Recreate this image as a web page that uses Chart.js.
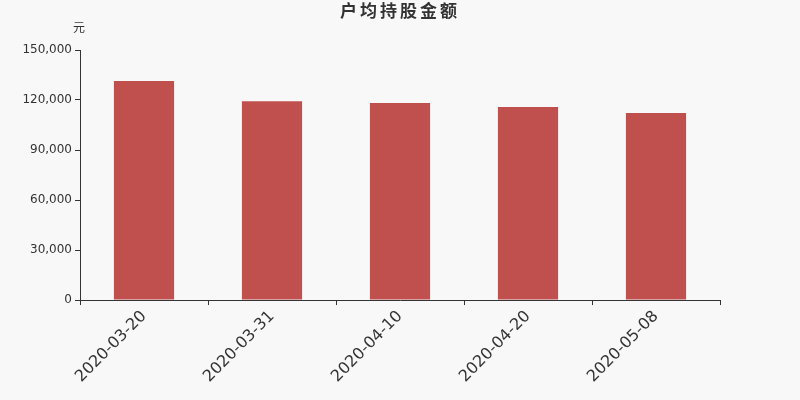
<!DOCTYPE html>
<html>
<head>
<meta charset="utf-8">
<script src="https://cdn.jsdelivr.net/npm/chart.js@4"></script>
<style>
  html, body { margin: 0; padding: 0; background: #f8f8f8; }
  #box { width: 800px; height: 400px; }
</style>
</head>
<body>
<div id="box"><canvas id="barChart"></canvas></div>
<script>
// 데이터
var dates = ['2020-03-20', '2020-03-31', '2020-04-10', '2020-04-20', '2020-05-08'];
var amounts = [131400, 119300, 118200, 115800, 112200];
var yTicks = [0, 30000, 60000, 90000, 120000, 150000];

var titleText = '户均持股金额';
var unitText = '元';

// 제목, 단위 그리기
var titlePlugin = {
    id: 'titlePlugin',
    afterDraw: function (chart) {
        var ctx = chart.ctx;
        ctx.save();
        ctx.fillStyle = '#333';
        ctx.textAlign = 'center';
        ctx.textBaseline = 'middle';
        ctx.font = 'bold 17px "DejaVu Sans", "Noto Sans CJK SC", sans-serif';
        ctx.letterSpacing = '3px';
        ctx.fillText(titleText, 400, 13);
        ctx.letterSpacing = '0px';
        ctx.font = '12px "DejaVu Sans", "Noto Sans CJK SC", sans-serif';
        ctx.fillText(unitText, 79, 29);
        ctx.restore();
    }
};

const bar = document.getElementById('barChart');

new Chart(bar, {
    type: 'bar',
    data: {
        labels: dates,
        datasets: [{
            data: amounts,
            backgroundColor: '#c0504d',
            categoryPercentage: 1,
            barPercentage: 0.47
        }]
    },
    options: {
        responsive: true,
        maintainAspectRatio: false,
        animation: false,
        layout: { padding: { top: 50, right: 80, left: 0, bottom: 0 } },
        plugins: {
            legend: { display: false },
            tooltip: { enabled: false }
        },
        scales: {
            x: {
                afterFit: function (scale) { scale.height = 100; },
                grid: {
                    offset: true,
                    drawOnChartArea: false,
                    drawTicks: true,
                    tickLength: 5,
                    color: '#333'
                },
                border: { color: '#333', width: 1 },
                ticks: {
                    color: '#333',
                    font: { family: 'DejaVu Sans', size: 16 },
                    minRotation: 45,
                    maxRotation: 45,
                    padding: 2
                }
            },
            y: {
                min: 0,
                max: 150000,
                afterFit: function (scale) { scale.width = 80; },
                afterBuildTicks: function (scale) {
                    scale.ticks = yTicks.map(function (v) { return { value: v }; });
                },
                grid: {
                    drawOnChartArea: false,
                    drawTicks: true,
                    tickLength: 5,
                    color: '#333'
                },
                border: { color: '#333', width: 1 },
                ticks: {
                    color: '#333',
                    font: { family: 'DejaVu Sans', size: 12 },
                    padding: 3,
                    callback: function (v) { return v.toLocaleString('en-US'); }
                }
            }
        }
    },
    plugins: [titlePlugin]
});
</script>
</body>
</html>
